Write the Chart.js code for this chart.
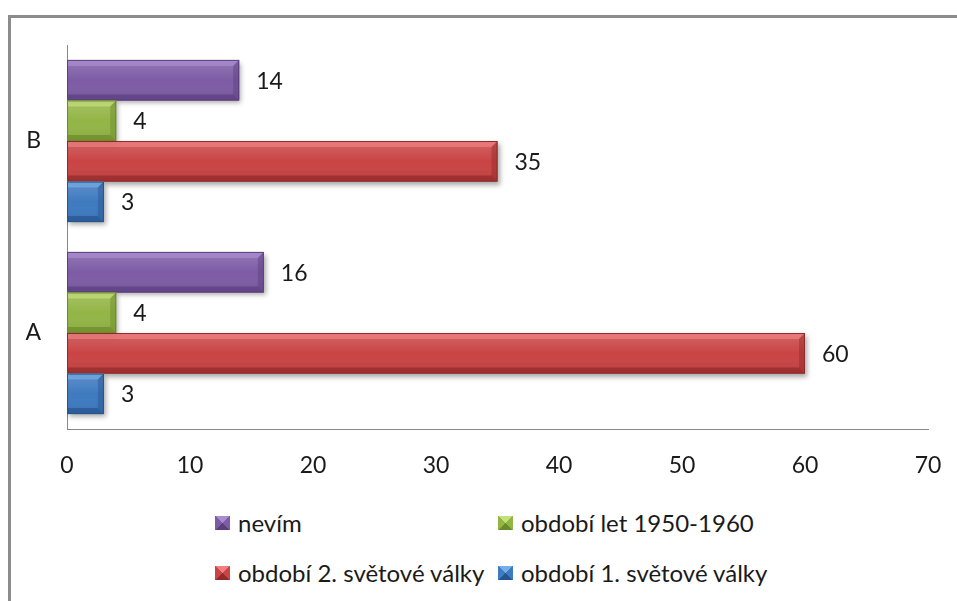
<!DOCTYPE html>
<html lang="cs">
<head>
<meta charset="UTF-8">
<title>Graf</title>
<style>
    html, body { margin: 0; padding: 0; background: #fff; overflow: hidden; }
    body { width: 957px; height: 601px; position: relative; font-family: Lato, "Open Sans", sans-serif; }
    /* sedý rámeček kolem grafu (jen horní a levá hrana jsou vidět) */
    .frame {
        position: absolute; left: 8px; top: 15px; width: 1000px; height: 700px;
        border-top: 3px solid #8c8c8c; border-left: 3px solid #8c8c8c;
    }
    .chart-box { position: absolute; left: 0; top: 0; width: 957px; height: 490px; }
    #legend {
        position: absolute; left: 215px; top: 508px;
        display: grid; grid-template-columns: 283px auto; row-gap: 21px;
        font-size: 24px; color: #1a1a1a; line-height: 29px;
    }
    .item { display: flex; align-items: center; white-space: nowrap; }
    .box { width: 15px; height: 14px; margin-right: 8px; }
</style>
</head>
<body>
<div class="frame"></div>
<div class="chart-box"><canvas id="graf"></canvas></div>
<div id="legend"></div>

<script src="https://cdn.jsdelivr.net/npm/chart.js"></script>
<script>
// kategorie (shora dolů)
const kategorie = ['B', 'A'];

// řady v pořadí shora dolů uvnitř skupiny
const nazvyRad = ['nevím', 'období let 1950-1960', 'období 2. světové války', 'období 1. světové války'];
const nevim = [14, 16];
const obdobi1950 = [4, 4];
const valka2 = [35, 60];
const valka1 = [3, 3];

const barvy = ['#7d5ca5', '#93b546', '#c94444', '#3e7ac0'];
const svetle = ['#a98bd0', '#c3e07a', '#ef7f7f', '#76aee8'];
const tmave = ['#5a3f7d', '#6b8a2a', '#912a2a', '#25548e'];

const osaX = [0, 10, 20, 30, 40, 50, 60, 70];

const hodnoty = [nevim, obdobi1950, valka2, valka1];

// stín pod sloupci
const stinPlugin = {
    id: 'stin',
    beforeDatasetsDraw(chart) {
        const ctx = chart.ctx;
        ctx.save();
        ctx.shadowColor = 'rgba(0,0,0,0.35)';
        ctx.shadowBlur = 5;
        ctx.shadowOffsetX = 2;
        ctx.shadowOffsetY = 3;
    },
    afterDatasetsDraw(chart) {
        chart.ctx.restore();
    }
};

// zkosené hrany sloupců + popisky hodnot
const zkoseniPlugin = {
    id: 'zkoseni',
    afterDatasetsDraw(chart) {
        const ctx = chart.ctx;
        chart.data.datasets.forEach((ds, i) => {
            const meta = chart.getDatasetMeta(i);
            meta.data.forEach((el, j) => {
                const p = el.getProps(['x', 'y', 'base', 'height'], true);
                const l = p.base, r = p.x, t = p.y - p.height / 2, b = p.y + p.height / 2;
                const s = 6;
                ctx.save();
                // plocha s jemným přechodem
                const g = ctx.createLinearGradient(0, t, 0, b);
                g.addColorStop(0, 'rgba(255,255,255,0.18)');
                g.addColorStop(0.5, 'rgba(255,255,255,0)');
                g.addColorStop(1, 'rgba(0,0,0,0.08)');
                ctx.fillStyle = g;
                ctx.fillRect(l, t, r - l, b - t);
                // horní hrana
                ctx.fillStyle = svetle[i];
                ctx.globalAlpha = 0.75;
                ctx.beginPath();
                ctx.moveTo(l, t); ctx.lineTo(r, t); ctx.lineTo(r - s, t + s); ctx.lineTo(l, t + s);
                ctx.closePath(); ctx.fill();
                // spodní hrana
                ctx.fillStyle = tmave[i];
                ctx.globalAlpha = 0.7;
                ctx.beginPath();
                ctx.moveTo(l, b); ctx.lineTo(r, b); ctx.lineTo(r - s, b - s); ctx.lineTo(l, b - s);
                ctx.closePath(); ctx.fill();
                // pravá hrana
                ctx.globalAlpha = 0.45;
                ctx.beginPath();
                ctx.moveTo(r, t); ctx.lineTo(r, b); ctx.lineTo(r - s, b - s); ctx.lineTo(r - s, t + s);
                ctx.closePath(); ctx.fill();
                ctx.globalAlpha = 1;
                ctx.strokeStyle = tmave[i];
                ctx.lineWidth = 1;
                ctx.strokeRect(l + 0.5, t + 0.5, r - l - 1, b - t - 1);
                ctx.restore();

                // popisek hodnoty
                ctx.save();
                ctx.font = '23px Lato, "Open Sans", sans-serif';
                ctx.fillStyle = '#1a1a1a';
                ctx.textAlign = 'left';
                ctx.textBaseline = 'middle';
                ctx.fillText(String(ds.data[j]), r + 17, p.y + 1);
                ctx.restore();
            });
        });
    }
};

const datasets = nazvyRad.map((nazev, i) => ({
    label: nazev,
    data: hodnoty[i],
    backgroundColor: barvy[i],
    borderWidth: 0,
    categoryPercentage: 0.845,
    barPercentage: 1
}));

new Chart(document.getElementById('graf'), {
    type: 'bar',
    data: { labels: kategorie, datasets: datasets },
    options: {
        indexAxis: 'y',
        responsive: true,
        maintainAspectRatio: false,
        animation: false,
        layout: { padding: { top: 45, right: 29, left: 0, bottom: 0 } },
        plugins: {
            legend: { display: false },
            tooltip: { enabled: false }
        },
        scales: {
            x: {
                min: 0, max: 70,
                afterBuildTicks: (scale) => { scale.ticks = osaX.map(v => ({ value: v })); },
                grid: { display: false, drawTicks: false },
                border: { display: true, color: '#888888', width: 1 },
                ticks: { padding: 23, color: '#1a1a1a', font: { family: 'Lato', size: 23 } },
                afterFit: (scale) => {
                    scale.height = 61;
                    scale.paddingLeft = 0;
                    scale.paddingRight = 0;
                }
            },
            y: {
                grid: { display: false, drawTicks: false },
                border: { display: true, color: '#888888', width: 1 },
                ticks: { padding: 26, color: '#1a1a1a', font: { family: 'Lato', size: 23 } },
                afterFit: (scale) => { scale.width = 67; }
            }
        }
    },
    plugins: [stinPlugin, zkoseniPlugin]
});

// legenda ve dvou sloupcích jako v originálu
const legenda = document.getElementById('legend');
nazvyRad.forEach((nazev, i) => {
    const item = document.createElement('div');
    item.className = 'item';
    const box = document.createElement('span');
    box.className = 'box';
    box.style.background = 'conic-gradient(from -45deg, ' + svetle[i] + ' 0 25%, ' + barvy[i] + ' 25% 50%, ' + tmave[i] + ' 50% 75%, ' + barvy[i] + ' 75% 100%)';
    const text = document.createElement('span');
    text.textContent = nazev;
    item.appendChild(box);
    item.appendChild(text);
    legenda.appendChild(item);
});
</script>
</body>
</html>
